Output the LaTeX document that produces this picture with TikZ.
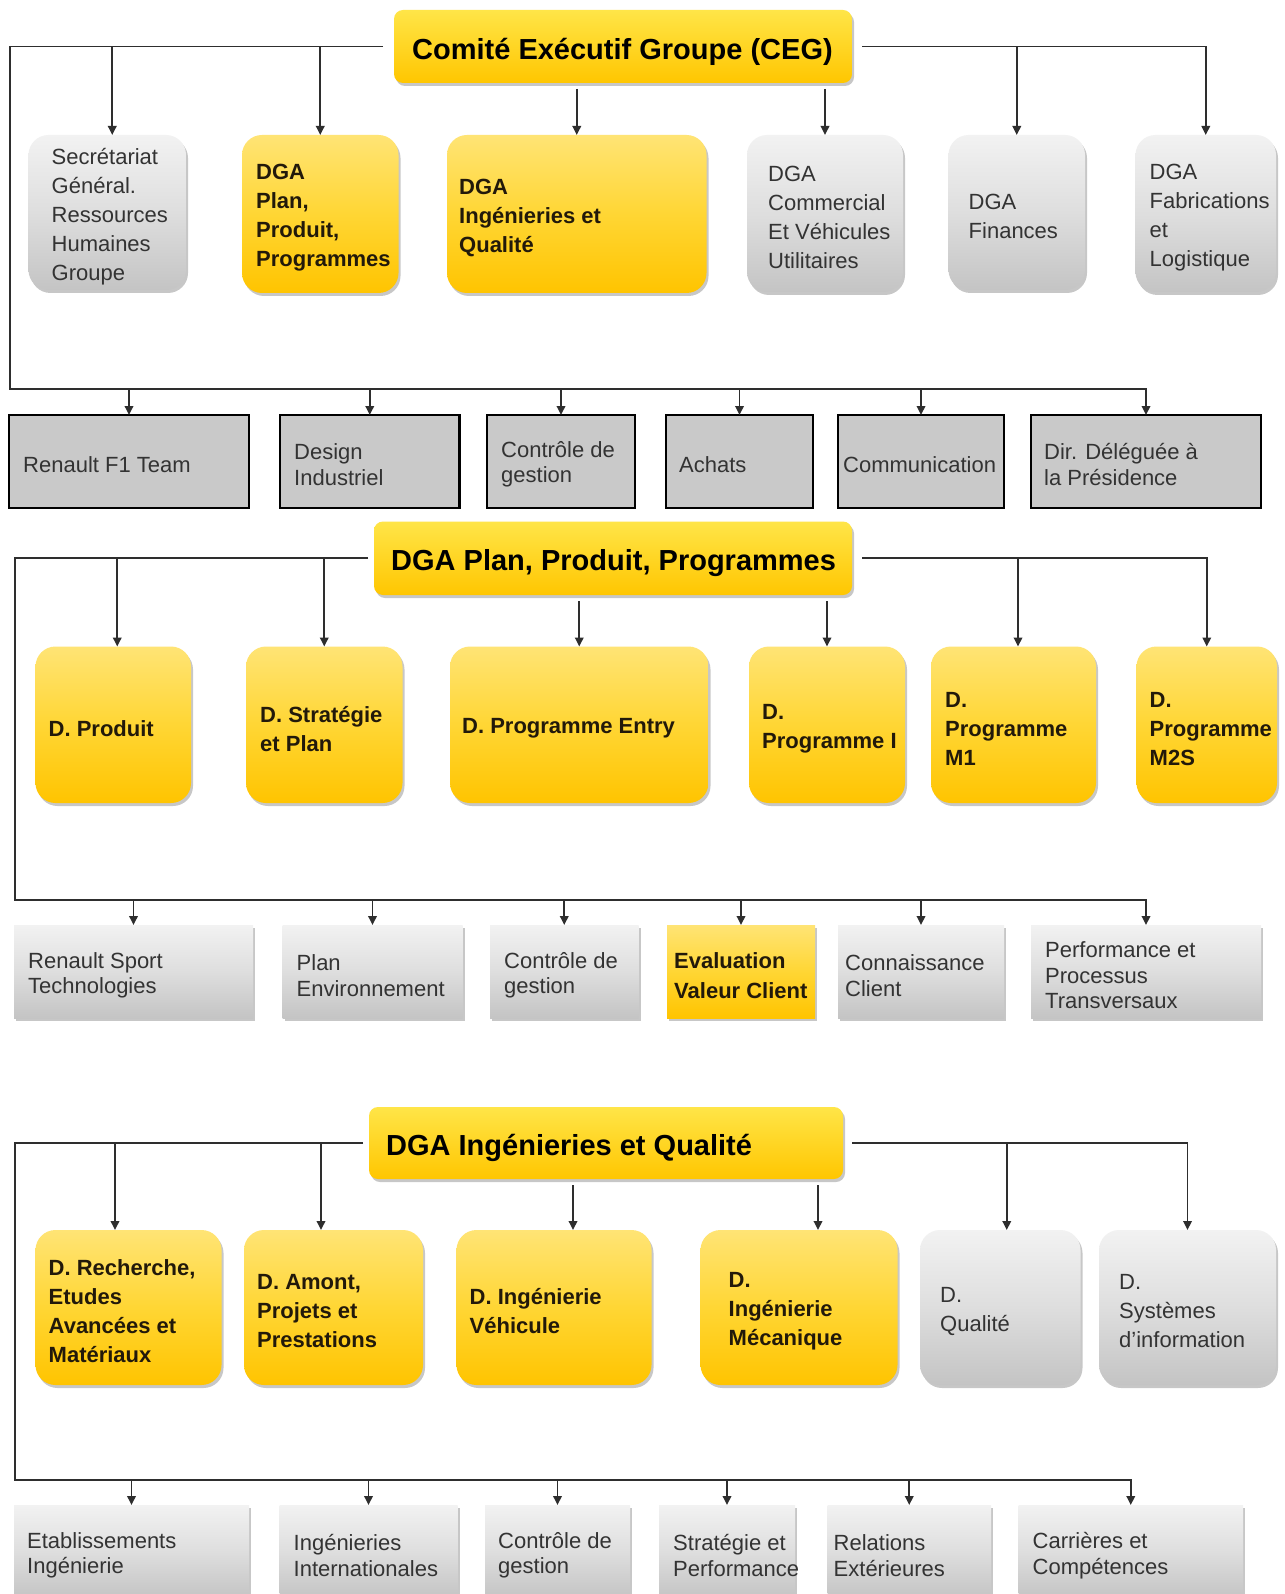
\documentclass[tikz,border=0pt]{standalone}
\usepackage{fontspec}
\setmainfont{Liberation Sans}
\usetikzlibrary{arrows.meta,shadows}
\definecolor{yT}{HTML}{FFE475}
\definecolor{yM}{HTML}{FFD634}
\definecolor{yB}{HTML}{FFC400}
\definecolor{tT}{HTML}{FFE548}
\definecolor{tB}{HTML}{FFC600}
\definecolor{gT}{HTML}{F2F2F2}
\definecolor{gM}{HTML}{DEDEDE}
\definecolor{gB}{HTML}{C4C4C4}
\definecolor{rF}{HTML}{C9C9C9}
\definecolor{lnC}{HTML}{2E2E2E}
\definecolor{txG}{HTML}{333333}
\definecolor{txY}{HTML}{22190A}
\tikzset{
  base/.style={inner sep=0pt, outer sep=0pt, rectangle},
  shd/.style={drop shadow={shadow xshift=2pt, shadow yshift=-3pt, fill=black, opacity=0.22}},
  tbox/.style={base, shd, rounded corners=9pt, top color=tT, bottom color=tB},
  tbox txt/.style={font=\fontsize{29}{34}\selectfont\bfseries, text=black, yshift=-5pt},
  ybox/.style={base, shd, rounded corners=20pt, top color=yT, bottom color=yB, middle color=yM},
  ybox txt/.style={font=\fontsize{22}{29}\selectfont\bfseries, text=txY, yshift=-4pt},
  gbox/.style={base, shd, rounded corners=20pt, top color=gT, bottom color=gB, middle color=gM},
  gbox txt/.style={font=\fontsize{22}{29}\selectfont, text=txG, yshift=-4pt},
  rbox/.style={base, fill=rF, draw=black, line width=2.2pt},
  rbox txt/.style={font=\fontsize{22}{25.5}\selectfont, text=txG, yshift=-3pt},
  gflat/.style={base, shd, top color=gT, bottom color=gB, middle color=gM},
  gflat txt/.style={font=\fontsize{22}{25.5}\selectfont, text=txG, yshift=-4pt},
  yflat/.style={base, shd, top color=yT, bottom color=yB, middle color=yM},
  yflat txt/.style={font=\fontsize{22}{29.5}\selectfont\bfseries, text=txY, yshift=-4pt},
  arr/.style={draw=lnC, line width=1.8pt, -{Triangle[length=9pt,width=8.5pt]}},
}
\newcommand{\bx}[8]{%
  \node[#2, minimum width={(#5)-(#3)}, minimum height={(#6)-(#4)}] (#1) at ({((#3)+(#5))/2},{((#4)+(#6))/2}) {};
  \node[#2 txt, anchor=west, inner sep=0pt, align=left] (#1-t) at ([xshift=#7pt]#1.west) {#8};
}
\begin{document}
\begin{tikzpicture}[x=1pt, y=-1pt]
\useasboundingbox (0,0) rectangle (1284,1594);
\clip (0,0) rectangle (1284,1594);
\fill[white] (0,0) rectangle (1284,1594);

% ---------------- Section 1
\bx{ceg}{tbox}{394}{10}{852}{83}{18}{Comité Exécutif Groupe (CEG)}
\bx{sec}{gbox}{28.5}{135}{186}{290}{23}{Secrétariat\\Général.\\Ressources\\Humaines\\Groupe}
\bx{plan}{ybox}{242}{135}{398.5}{293}{14}{DGA\\Plan,\\Produit,\\Programmes}
\bx{ing}{ybox}{447}{135}{706.5}{293}{12}{DGA\\Ingénieries et\\Qualité}
\bx{com}{gbox}{747}{135}{903}{292}{21}{DGA\\Commercial\\Et Véhicules\\Utilitaires}
\bx{fin}{gbox}{948.5}{135}{1085}{290}{20}{DGA\\Finances}
\bx{fab}{gbox}{1135.5}{135}{1276}{292}{14}{DGA\\Fabrications\\et\\Logistique}

\bx{rf1}{rbox}{9}{415}{249}{508}{14}{Renault F1 Team}
\bx{des}{rbox}{280}{415}{459.5}{508}{14}{Design\\Industriel}
\bx{cdga}{rbox}{487}{415}{635}{508}{14}{Contrôle de\\gestion}
\bx{ach}{rbox}{666}{415}{813}{508}{13}{Achats}
\bx{comm}{rbox}{838}{415}{1004}{508}{5}{Communication}
\bx{dir}{rbox}{1031}{415}{1261}{508}{13}{Dir. Déléguée à\\la Présidence}

\coordinate (L1a) at (10,46.5);
\coordinate (L1b) at (10,389);
\draw[arr] ([xshift=-11pt]ceg.west) -- (L1a) -- (L1b) -| (dir.north);
\draw[arr] ([xshift=10pt]ceg.east) -| (fab.north);
\draw[arr] ([xshift=5pt]sec.north |- L1a) -- ([xshift=5pt]sec.north);
\draw[arr] (plan.north |- L1a) -- (plan.north);
\draw[arr] (fin.north |- L1a) -- (fin.north);
\draw[arr] ([yshift=-6pt]ceg.south -| ing.north) -- (ing.north);
\draw[arr] ([yshift=-6pt]ceg.south -| com.north) -- (com.north);
\foreach \n in {rf1,des,cdga,ach,comm}{\draw[arr] (\n.north |- L1b) -- (\n.north);}

% ---------------- Section 2
\bx{ppp}{tbox}{374}{521.5}{852}{595}{17}{DGA Plan, Produit, Programmes}
\bx{prod}{ybox}{35.5}{646.5}{191}{803}{13}{D. Produit}
\bx{strat}{ybox}{246}{646.5}{402.5}{803}{14}{D. Stratégie\\et Plan}
\bx{entry}{ybox}{450}{646.5}{708.5}{803}{12}{D. Programme Entry}
\bx{progi}{ybox}{749}{646.5}{905}{803}{13}{D.\\Programme I}
\bx{mone}{ybox}{931}{646.5}{1096}{803}{14}{D.\\Programme\\M1}
\bx{mtwo}{ybox}{1136.5}{646.5}{1277}{803}{13}{D.\\Programme\\M2S}

\bx{rst}{gflat}{14}{925}{253}{1018}{14}{Renault Sport\\Technologies}
\bx{penv}{gflat}{282.5}{925}{462.5}{1018}{14}{Plan\\Environnement}
\bx{cdgb}{gflat}{490}{925}{638.5}{1018}{14}{Contrôle de\\gestion}
\bx{eval}{yflat}{667}{925}{815}{1018}{7}{Evaluation\\Valeur Client}
\bx{conn}{gflat}{838}{925}{1004}{1018}{7}{Connaissance\\Client}
\bx{perf}{gflat}{1031}{925}{1261}{1018}{14}{Performance et\\Processus\\Transversaux}

\coordinate (L2a) at (15,558.25);
\coordinate (L2b) at (15,900);
\draw[arr] ([xshift=-6pt]ppp.west) -- (L2a) -- (L2b) -| (perf.north);
\draw[arr] ([xshift=10pt]ppp.east) -| (mtwo.north);
\draw[arr] ([xshift=4pt]prod.north |- L2a) -- ([xshift=4pt]prod.north);
\draw[arr] (strat.north |- L2a) -- (strat.north);
\draw[arr] ([xshift=4.5pt]mone.north |- L2a) -- ([xshift=4.5pt]mone.north);
\draw[arr] ([yshift=-6pt]ppp.south -| entry.north) -- (entry.north);
\draw[arr] ([yshift=-6pt]ppp.south -| progi.north) -- (progi.north);
\foreach \n in {rst,penv,cdgb,eval,conn}{\draw[arr] (\n.north |- L2b) -- (\n.north);}

% ---------------- Section 3
\bx{diq}{tbox}{369}{1107}{843}{1179}{17}{DGA Ingénieries et Qualité}
\bx{rech}{ybox}{35.5}{1230}{221.5}{1385}{13}{D. Recherche,\\Etudes\\Avancées et\\Matériaux}
\bx{amont}{ybox}{244}{1230}{423}{1385}{13}{D. Amont,\\Projets et\\Prestations}
\bx{ivh}{ybox}{456.5}{1230}{651.5}{1385}{13}{D. Ingénierie\\Véhicule}
\bx{imec}{ybox}{700.5}{1230}{897.5}{1385}{28}{D.\\Ingénierie\\Mécanique}
\bx{qual}{gbox}{920}{1230}{1080.5}{1385}{20}{D.\\Qualité}
\bx{sinf}{gbox}{1099}{1230}{1276}{1385}{20}{D.\\Systèmes\\d’information}

\bx{etab}{gflat}{14}{1505}{249}{1598}{13}{Etablissements\\Ingénierie}
\bx{iint}{gflat}{279.5}{1505}{457.5}{1598}{14}{Ingénieries\\Internationales}
\bx{cdgc}{gflat}{485}{1505}{630}{1598}{13}{Contrôle de\\gestion}
\bx{strp}{gflat}{659}{1505}{795}{1598}{14}{Stratégie et\\Performance}
\bx{rel}{gflat}{827.5}{1505}{991}{1598}{6}{Relations\\Extérieures}
\bx{carr}{gflat}{1018.5}{1505}{1243}{1598}{14}{Carrières et\\Compétences}

\coordinate (L3a) at (15,1143);
\coordinate (L3b) at (15,1480);
\draw[arr] ([xshift=-6pt]diq.west) -- (L3a) -- (L3b) -| (carr.north);
\draw[arr] ([xshift=9pt]diq.east) -| (sinf.north);
\draw[arr] ([xshift=-13.5pt]rech.north |- L3a) -- ([xshift=-13.5pt]rech.north);
\draw[arr] ([xshift=-12.5pt]amont.north |- L3a) -- ([xshift=-12.5pt]amont.north);
\draw[arr] ([xshift=6.5pt]qual.north |- L3a) -- ([xshift=6.5pt]qual.north);
\draw[arr] ([yshift=-6pt,xshift=19pt]diq.south -| ivh.north) -- ([xshift=19pt]ivh.north);
\draw[arr] ([yshift=-6pt,xshift=19pt]diq.south -| imec.north) -- ([xshift=19pt]imec.north);
\foreach \n in {etab,iint,cdgc,strp,rel}{\draw[arr] (\n.north |- L3b) -- (\n.north);}
\end{tikzpicture}
\end{document}
